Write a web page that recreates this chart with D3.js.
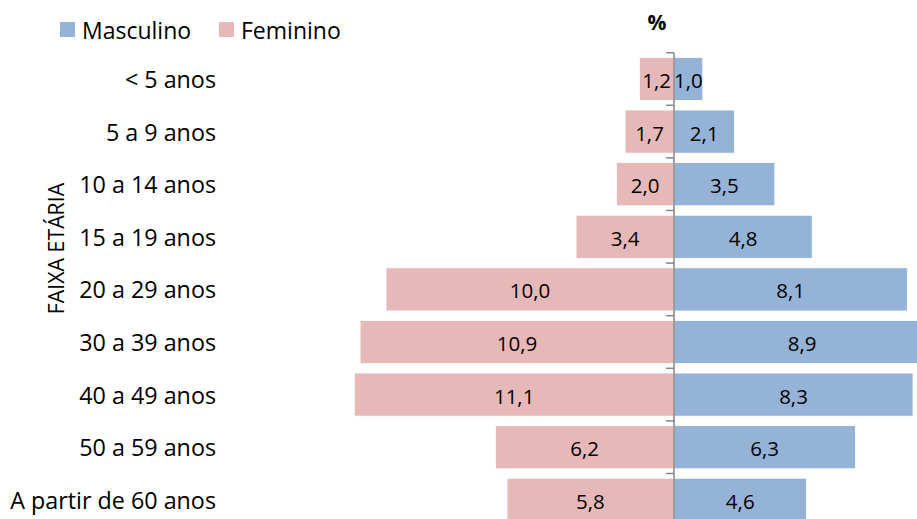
<!DOCTYPE html>
<html><head><meta charset="utf-8">
<script src="https://cdn.jsdelivr.net/npm/d3@7"></script>
<style>html,body{margin:0;padding:0;background:#fff;overflow:hidden}svg{display:block;font-family:"Open Sans",Lato,sans-serif}</style>
</head><body><svg id="c" width="917" height="519"></svg>
<script>
const categories = ["< 5 anos","5 a 9 anos","10 a 14 anos","15 a 19 anos","20 a 29 anos","30 a 39 anos","40 a 49 anos","50 a 59 anos","A partir de 60 anos"];
const masculino = [1.0,2.1,3.5,4.8,8.1,8.9,8.3,6.3,4.6];
const feminino = [1.2,1.7,2.0,3.4,10.0,10.9,11.1,6.2,5.8];
const seriesNames = ["Masculino","Feminino"];
const colors = {Masculino:"#95B3D7", Feminino:"#E6B9B8"};

const svg = d3.select("#c");
const x0 = 674, k = 28.8;
const x = d3.scaleLinear().domain([-12, 9]).range([x0 - 12*k, x0 + 9*k]);
const y = d3.scaleBand().domain(categories).range([52.7, 52.7 + 9*52.6]).paddingInner(0.18).paddingOuter(0.09);

const fmt = v => v.toFixed(1).replace(".", ",");

// bars
const g = svg.append("g");
g.selectAll("rect.f").data(categories).join("rect").attr("class","f")
  .attr("x", (c,i) => x(-feminino[i])).attr("width", (c,i) => x(0) - x(-feminino[i]))
  .attr("y", c => y(c)).attr("height", y.bandwidth())
  .attr("fill", colors.Feminino).attr("stroke","#fff").attr("stroke-width",0.8);
g.selectAll("rect.m").data(categories).join("rect").attr("class","m")
  .attr("x", x(0)).attr("width", (c,i) => x(masculino[i]) - x(0))
  .attr("y", c => y(c)).attr("height", y.bandwidth())
  .attr("fill", colors.Masculino).attr("stroke","#fff").attr("stroke-width",0.8);

// labels
g.selectAll("text.f").data(categories).join("text").attr("class","f")
  .attr("x", (c,i) => (x(-feminino[i]) + x(0))/2).attr("y", c => y(c) + y.bandwidth()/2 + 1)
  .attr("text-anchor","middle").attr("dominant-baseline","central")
  .attr("font-size",20.5).attr("fill","#000").text((c,i) => fmt(feminino[i]));
g.selectAll("text.m").data(categories).join("text").attr("class","m")
  .attr("x", (c,i) => (x(masculino[i]) + x(0))/2).attr("y", c => y(c) + y.bandwidth()/2 + 1)
  .attr("text-anchor","middle").attr("dominant-baseline","central")
  .attr("font-size",20.5).attr("fill","#000").text((c,i) => fmt(masculino[i]));

// axis line and ticks
const step = y.step();
const yTop = y.range()[0];
svg.append("line").attr("x1", x(0)).attr("x2", x(0)).attr("y1", yTop).attr("y2", y.range()[1])
  .attr("stroke","#868686").attr("stroke-width",1.5);
svg.selectAll("line.t").data(d3.range(categories.length+1)).join("line").attr("class","t")
  .attr("x1", x(0)-8).attr("x2", x(0)).attr("y1", i => yTop + i*step).attr("y2", i => yTop + i*step)
  .attr("stroke","#868686").attr("stroke-width",1.5);

// category labels
svg.selectAll("text.cat").data(categories).join("text").attr("class","cat")
  .attr("x", 216).attr("y", c => y(c) + y.bandwidth()/2)
  .attr("text-anchor","end").attr("dominant-baseline","central")
  .attr("font-size",23.3).attr("fill","#000").text(c => c);

// axis title
svg.append("text").attr("transform","translate(55,248.5) rotate(-90)")
  .attr("text-anchor","middle").attr("dominant-baseline","central")
  .attr("font-size",21.3).attr("fill","#000").text("FAIXA ETÁRIA");

// % title
svg.append("text").attr("x",657).attr("y",22).attr("text-anchor","middle").attr("dominant-baseline","central")
  .attr("font-size",21).attr("font-weight","bold").attr("fill","#000").text("%");

// legend
const legX = [60, 219];
const leg = svg.selectAll("g.leg").data(seriesNames).join("g").attr("class","leg")
  .attr("transform",(d,i) => `translate(${legX[i]},22)`);
leg.append("rect").attr("width",15).attr("height",15).attr("fill", d => colors[d]);
leg.append("text").attr("x",22).attr("y",7.5).attr("dominant-baseline","central")
  .attr("font-size",23).attr("fill","#000").text(d => d);
</script></body></html>
